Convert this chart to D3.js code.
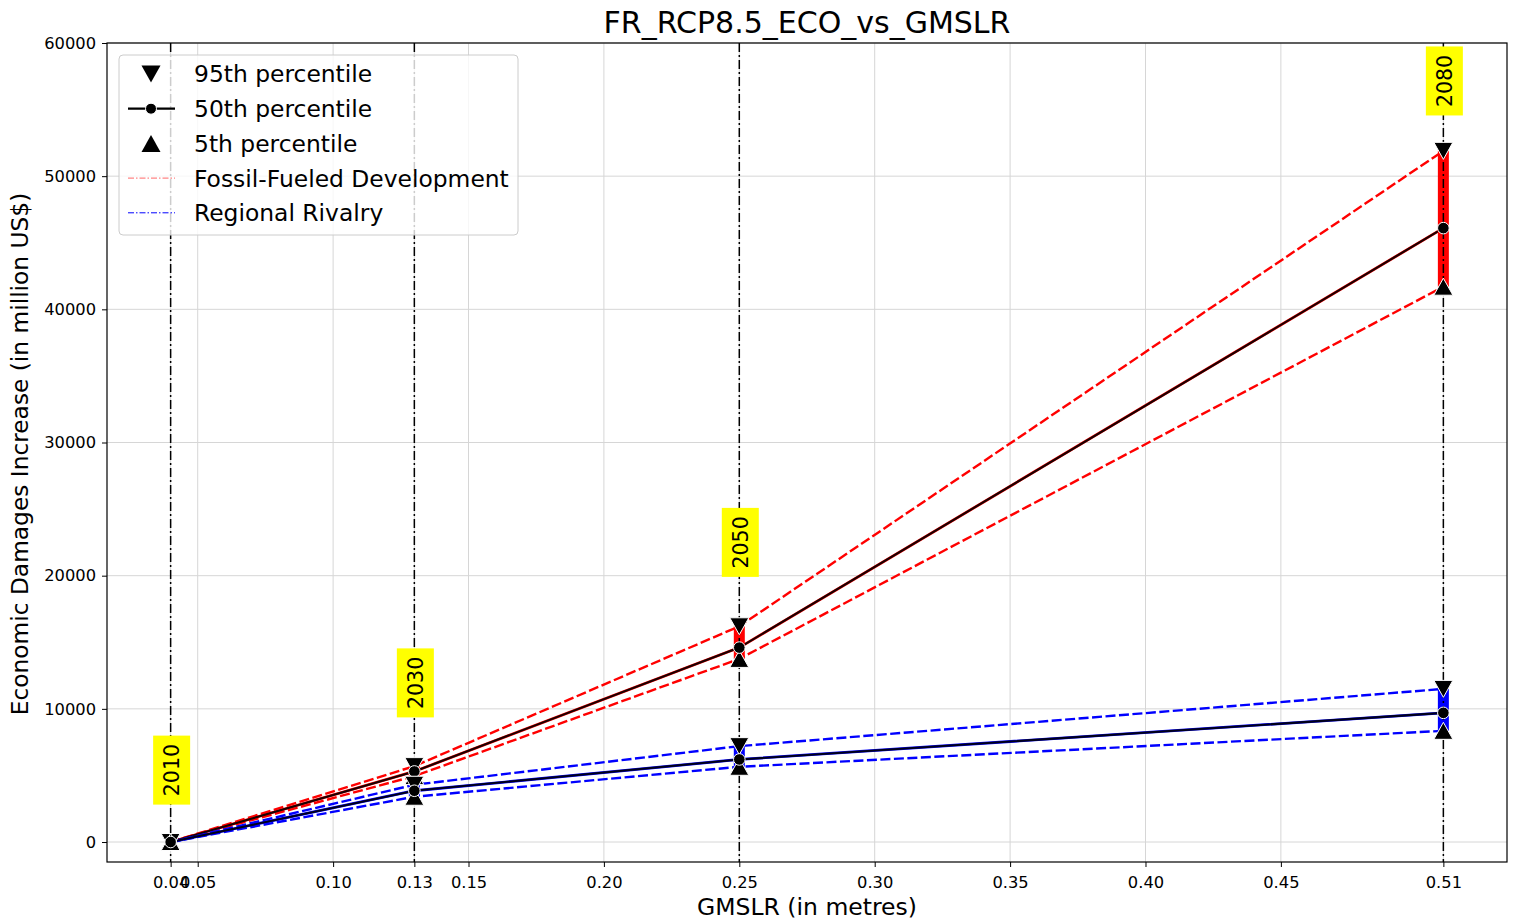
<!DOCTYPE html>
<html>
<head>
<meta charset="utf-8">
<script src="https://cdn.jsdelivr.net/npm/d3@7"></script>
<style>
  html, body { margin: 0; padding: 0; background: #fff; }
  svg { display: block; font-family: "DejaVu Sans", sans-serif; }
</style>
</head>
<body>
<svg id="chart" width="1516" height="924"></svg>
<script>
// ---- data ----
const years = ["2010", "2030", "2050", "2080"];
const gmslr = [0.04, 0.13, 0.25, 0.51];
const ffdP95 = [0, 5700, 16200, 51900];
const ffdP50 = [0, 5300, 14600, 46100];
const ffdP5  = [0, 4950, 13750, 41700];
const rrP95 = [0, 4300, 7200, 11500];
const rrP50 = [0, 3850, 6200, 9700];
const rrP5  = [0, 3400, 5650, 8350];
const labelY = [5400, 11950, 22500, 57150];   // annotation centre in data units
const xTicks = [0.04, 0.05, 0.10, 0.13, 0.15, 0.20, 0.25, 0.30, 0.35, 0.40, 0.45, 0.51];
const xTickLabels = ["0.04", "0.05", "0.10", "0.13", "0.15", "0.20", "0.25", "0.30", "0.35", "0.40", "0.45", "0.51"];
const yTicks = [0, 10000, 20000, 30000, 40000, 50000, 60000];
const legendLabels = ["95th percentile", "50th percentile", "5th percentile", "Fossil-Fueled Development", "Regional Rivalry"];

const scenarios = [
  { name: "Fossil-Fueled Development", color: "#ff0000", p95: ffdP95, p50: ffdP50, p5: ffdP5 },
  { name: "Regional Rivalry", color: "#0000ff", p95: rrP95, p50: rrP50, p5: rrP5 }
];

// ---- layout ----
const svg = d3.select("#chart");
const m = { left: 107, top: 43, right: 1507, bottom: 862 };
const x = d3.scaleLinear().domain([0.0165, 0.5335]).range([m.left, m.right]);
const y = d3.scaleLinear().domain([-1500, 60000]).range([m.bottom, m.top]);

// grid
const g = svg.append("g");
g.selectAll("line.vg").data(xTicks).join("line")
  .attr("x1", d => x(d)).attr("x2", d => x(d))
  .attr("y1", m.top).attr("y2", m.bottom)
  .attr("stroke", "#d6d6d6").attr("stroke-width", 1);
g.selectAll("line.hg").data(yTicks).join("line")
  .attr("x1", m.left).attr("x2", m.right)
  .attr("y1", d => y(d)).attr("y2", d => y(d))
  .attr("stroke", "#d6d6d6").attr("stroke-width", 1);

// axes
const xAxis = d3.axisBottom(x).tickValues(xTicks).tickFormat((d, i) => xTickLabels[i]).tickSizeOuter(0).tickSize(5).tickPadding(6);
const yAxis = d3.axisLeft(y).tickValues(yTicks).tickFormat(d3.format("d")).tickSizeOuter(0).tickSize(5).tickPadding(6);
const gx = svg.append("g").attr("transform", `translate(0,${m.bottom})`).call(xAxis);
const gy = svg.append("g").attr("transform", `translate(${m.left},0)`).call(yAxis);
[gx, gy].forEach(a => {
  a.select(".domain").remove();
  a.selectAll("text").attr("font-size", 16.3).attr("font-family", "DejaVu Sans").attr("fill", "#000");
  a.selectAll("line").attr("stroke", "#000");
});
gx.selectAll("text").attr("dy", "0.95em");

// lines
const lineGen = (arr) => d3.line().x((d, i) => x(gmslr[i])).y(d => y(d))(arr);
const plot = svg.append("g");
scenarios.forEach(s => {
  [s.p95, s.p5].forEach(arr => {
    plot.append("path").attr("d", lineGen(arr)).attr("fill", "none")
      .attr("stroke", s.color).attr("stroke-width", 2.4).attr("stroke-dasharray", "10,3.5");
  });
  plot.append("path").attr("d", lineGen(s.p50)).attr("fill", "none")
    .attr("stroke", s.color).attr("stroke-width", 2.8);
  plot.append("path").attr("d", lineGen(s.p50)).attr("fill", "none")
    .attr("stroke", "#000").attr("stroke-width", 2.1).attr("stroke-opacity", 0.9);
});
// range bars
scenarios.forEach(s => {
  plot.selectAll(null).data(gmslr).join("line")
    .attr("x1", d => x(d)).attr("x2", d => x(d))
    .attr("y1", (d, i) => y(s.p95[i])).attr("y2", (d, i) => y(s.p5[i]))
    .attr("stroke", s.color).attr("stroke-width", 11);
});

// vertical year lines
plot.selectAll("line.vy").data(gmslr).join("line")
  .attr("x1", d => x(d)).attr("x2", d => x(d))
  .attr("y1", m.top).attr("y2", m.bottom)
  .attr("stroke", "#000").attr("stroke-width", 1.5).attr("stroke-dasharray", "9,3,2,3");

// markers
const tri = (w, h, down) => down
  ? `M0,${h / 2}L${-w / 2},${-h / 2}L${w / 2},${-h / 2}Z`
  : `M0,${-h / 2}L${-w / 2},${h / 2}L${w / 2},${h / 2}Z`;
scenarios.forEach(s => {
  plot.selectAll(null).data(gmslr).join("path")
    .attr("transform", (d, i) => `translate(${x(d)},${y(s.p95[i])})`)
    .attr("d", tri(19, 17, true)).attr("fill", "#000").attr("stroke", "#fff").attr("stroke-width", 1);
  plot.selectAll(null).data(gmslr).join("path")
    .attr("transform", (d, i) => `translate(${x(d)},${y(s.p5[i])})`)
    .attr("d", tri(19, 17, false)).attr("fill", "#000").attr("stroke", "#fff").attr("stroke-width", 1);
  plot.selectAll(null).data(gmslr).join("circle")
    .attr("cx", d => x(d)).attr("cy", (d, i) => y(s.p50[i])).attr("r", 5.8)
    .attr("fill", "#000").attr("stroke", "#fff").attr("stroke-width", 1);
});

// year labels
const lab = svg.append("g");
years.forEach((yr, i) => {
  const cx = x(gmslr[i]) + 1, cy = y(labelY[i]);
  lab.append("rect").attr("x", cx - 18.5).attr("y", cy - 34.5).attr("width", 37).attr("height", 69).attr("fill", "#ffff00");
  lab.append("text").attr("transform", `translate(${cx},${cy}) rotate(-90)`)
    .attr("text-anchor", "middle").attr("dy", "0.36em").attr("font-size", 20.5).text(yr);
});

// frame
svg.append("rect").attr("x", m.left).attr("y", m.top).attr("width", m.right - m.left).attr("height", m.bottom - m.top)
  .attr("fill", "none").attr("stroke", "#000").attr("stroke-width", 1.2);

// legend
const lg = svg.append("g");
lg.append("rect").attr("x", 119).attr("y", 55).attr("width", 399).attr("height", 180).attr("rx", 4)
  .attr("fill", "#fff").attr("fill-opacity", 0.8).attr("stroke", "#cccccc").attr("stroke-width", 1);
const rowY = i => 74 + i * 34.7;
lg.append("path").attr("transform", `translate(151,${rowY(0)})`).attr("d", tri(19, 17, true)).attr("fill", "#000");
lg.append("line").attr("x1", 128).attr("x2", 175).attr("y1", rowY(1)).attr("y2", rowY(1)).attr("stroke", "#000").attr("stroke-width", 2.2);
lg.append("circle").attr("cx", 151).attr("cy", rowY(1)).attr("r", 5.5).attr("fill", "#000").attr("stroke", "#fff").attr("stroke-width", 1);
lg.append("path").attr("transform", `translate(151,${rowY(2)})`).attr("d", tri(19, 17, false)).attr("fill", "#000");
lg.append("line").attr("x1", 128).attr("x2", 175).attr("y1", rowY(3)).attr("y2", rowY(3)).attr("stroke", "#ff0000").attr("stroke-opacity", 0.6).attr("stroke-width", 1).attr("stroke-dasharray", "6,2,1.5,2");
lg.append("line").attr("x1", 128).attr("x2", 175).attr("y1", rowY(4)).attr("y2", rowY(4)).attr("stroke", "#0000ff").attr("stroke-width", 1).attr("stroke-dasharray", "6,2,1.5,2");
legendLabels.forEach((t, i) => {
  lg.append("text").attr("x", 194).attr("y", rowY(i)).attr("dy", "0.36em").attr("font-size", 23.4).text(t);
});

// titles
svg.append("text").attr("x", 807).attr("y", 22).attr("text-anchor", "middle").attr("dy", "0.36em").attr("font-size", 30).text("FR_RCP8.5_ECO_vs_GMSLR");
svg.append("text").attr("x", 807).attr("y", 907).attr("text-anchor", "middle").attr("dy", "0.36em").attr("font-size", 23.5).text("GMSLR (in metres)");
svg.append("text").attr("transform", "translate(20,454) rotate(-90)").attr("text-anchor", "middle").attr("dy", "0.36em").attr("font-size", 23.3).text("Economic Damages Increase (in million US$)");
</script>
</body>
</html>
